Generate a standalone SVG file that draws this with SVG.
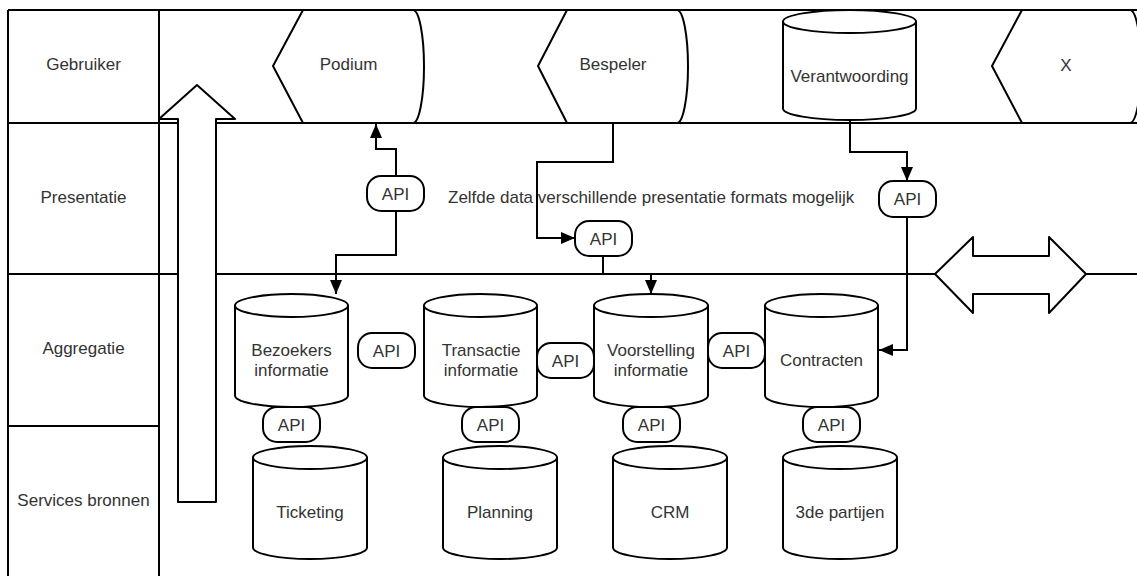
<svg xmlns="http://www.w3.org/2000/svg" width="1137" height="576" viewBox="0 0 1137 576">
  <defs>
    <style>
      .lane { fill: none; stroke: #000; stroke-width: 2; }
      .shape { fill: #fff; stroke: #000; stroke-width: 2; stroke-linejoin: round; }
      .rim { fill: none; stroke: #000; stroke-width: 2; }
      .api { fill: #fff; stroke: #000; stroke-width: 2; }
      .conn { fill: none; stroke: #000; stroke-width: 2; }
      text { font-family: "Liberation Sans", Arial, sans-serif; font-size: 17px; fill: #333; text-anchor: middle; }
      .lefttext { text-anchor: start; }
    </style>
    <marker id="arrow" markerUnits="userSpaceOnUse" markerWidth="14" markerHeight="12" refX="14" refY="6" orient="auto">
      <path d="M0,0 L14,6 L0,12 z" fill="#000"/>
    </marker>
  </defs>

  <rect width="1137" height="576" fill="#fff"/>

  <!-- swimlanes -->
  <g id="lanes">
    <path class="lane" d="M8,10 H1137 M8,123 H1137 M8,274 H1137 M8,426 H159 M8,10 V580 M159,10 V580"/>
    <text x="83.5" y="70">Gebruiker</text>
    <text x="83.5" y="203">Presentatie</text>
    <text x="83.5" y="354">Aggregatie</text>
    <text x="83.5" y="506">Services bronnen</text>
  </g>

  <!-- big upward arrow -->
  <g id="up-arrow">
    <polygon class="shape" points="197,85 235,119 216,119 216,502 178,502 178,119 159,119"/>
  </g>

  <!-- double arrow -->
  <g id="double-arrow">
    <polygon class="shape" points="935,274 973,237 973,256 1049,256 1049,237 1086,274 1049,313 1049,294 973,294 973,313"/>
  </g>

  <!-- user layer -->
  <g id="podium">
    <path class="shape" d="M273,66 L303,10 H413 A11,56.5 0 0 1 413,123 H303 Z"/>
    <text x="348.5" y="70">Podium</text>
  </g>
  <g id="bespeler">
    <path class="shape" d="M538,66 L567,10 H677 A11,56.5 0 0 1 677,123 H567 Z"/>
    <text x="613" y="70">Bespeler</text>
  </g>
  <g id="verantwoording">
    <path class="shape" d="M783,21.5 V108.5 A66.5,11.5 0 0 0 916,108.5 V21.5 A66.5,11.5 0 0 0 783,21.5 Z"/>
    <path class="rim" d="M783,21.5 A66.5,11.5 0 0 0 916,21.5"/>
    <text x="849.5" y="82">Verantwoording</text>
  </g>
  <g id="x">
    <path class="shape" d="M992,66 L1022,10 H1130 A11,56.5 0 0 1 1130,123 H1022 Z"/>
    <text x="1066" y="71">X</text>
  </g>

  <!-- aggregation layer -->
  <g id="bezoekers">
    <path class="shape" d="M235,305.5 V395.5 A56.5,11.5 0 0 0 348,395.5 V305.5 A56.5,11.5 0 0 0 235,305.5 Z"/>
    <path class="rim" d="M235,305.5 A56.5,11.5 0 0 0 348,305.5"/>
    <text x="291.5" y="356">Bezoekers</text>
    <text x="291.5" y="376">informatie</text>
  </g>
  <g id="transactie">
    <path class="shape" d="M424,305.5 V395.5 A56.5,11.5 0 0 0 537,395.5 V305.5 A56.5,11.5 0 0 0 424,305.5 Z"/>
    <path class="rim" d="M424,305.5 A56.5,11.5 0 0 0 537,305.5"/>
    <text x="481" y="356">Transactie</text>
    <text x="481" y="376">informatie</text>
  </g>
  <g id="voorstelling">
    <path class="shape" d="M594,305.5 V395.5 A57,11.5 0 0 0 708,395.5 V305.5 A57,11.5 0 0 0 594,305.5 Z"/>
    <path class="rim" d="M594,305.5 A57,11.5 0 0 0 708,305.5"/>
    <text x="651" y="356">Voorstelling</text>
    <text x="651" y="376">informatie</text>
  </g>
  <g id="contracten">
    <path class="shape" d="M765,305.5 V395.5 A56.5,11.5 0 0 0 878,395.5 V305.5 A56.5,11.5 0 0 0 765,305.5 Z"/>
    <path class="rim" d="M765,305.5 A56.5,11.5 0 0 0 878,305.5"/>
    <text x="821.5" y="366">Contracten</text>
  </g>

  <!-- source layer -->
  <g id="ticketing">
    <path class="shape" d="M253,457.5 V547.5 A57,11.5 0 0 0 367,547.5 V457.5 A57,11.5 0 0 0 253,457.5 Z"/>
    <path class="rim" d="M253,457.5 A57,11.5 0 0 0 367,457.5"/>
    <text x="310" y="518">Ticketing</text>
  </g>
  <g id="planning">
    <path class="shape" d="M443,457.5 V547.5 A57,11.5 0 0 0 557,547.5 V457.5 A57,11.5 0 0 0 443,457.5 Z"/>
    <path class="rim" d="M443,457.5 A57,11.5 0 0 0 557,457.5"/>
    <text x="500" y="518">Planning</text>
  </g>
  <g id="crm">
    <path class="shape" d="M613,457.5 V547.5 A57,11.5 0 0 0 727,547.5 V457.5 A57,11.5 0 0 0 613,457.5 Z"/>
    <path class="rim" d="M613,457.5 A57,11.5 0 0 0 727,457.5"/>
    <text x="670" y="518">CRM</text>
  </g>
  <g id="derde-partijen">
    <path class="shape" d="M783,457.5 V547.5 A57,11.5 0 0 0 897,547.5 V457.5 A57,11.5 0 0 0 783,457.5 Z"/>
    <path class="rim" d="M783,457.5 A57,11.5 0 0 0 897,457.5"/>
    <text x="840" y="518">3de partijen</text>
  </g>

  <!-- connectors -->
  <g id="connectors">
    <path class="conn" d="M396,176 V149 H376 V124" marker-end="url(#arrow)"/>
    <path class="conn" d="M396,211 V255 H336 V294" marker-end="url(#arrow)"/>
    <path class="conn" d="M613,123 V162 H537 V238 H575" marker-end="url(#arrow)"/>
    <path class="conn" d="M603,256 V274"/>
    <path class="conn" d="M651,274 V294" marker-end="url(#arrow)"/>
    <path class="conn" d="M850,120 V152 H907 V181" marker-end="url(#arrow)"/>
    <path class="conn" d="M907,217 V350 H879" marker-end="url(#arrow)"/>
  </g>

  <!-- API nodes -->
  <g id="api-podium"><rect class="api" x="367" y="176" width="57" height="35" rx="14"/><text x="395.5" y="199.5">API</text></g>
  <g id="api-bespeler"><rect class="api" x="575" y="221" width="57" height="35" rx="14"/><text x="603.5" y="244.5">API</text></g>
  <g id="api-verantwoording"><rect class="api" x="879" y="181" width="57" height="36" rx="14"/><text x="907.5" y="205">API</text></g>
  <g id="api-bezoekers-transactie"><rect class="api" x="358" y="333" width="57" height="35" rx="14"/><text x="386.5" y="356.5">API</text></g>
  <g id="api-transactie-voorstelling"><rect class="api" x="537" y="343" width="57" height="35" rx="14"/><text x="565.5" y="366.5">API</text></g>
  <g id="api-voorstelling-contracten"><rect class="api" x="708" y="333" width="57" height="35" rx="14"/><text x="736.5" y="356.5">API</text></g>
  <g id="api-ticketing"><rect class="api" x="263" y="407" width="57" height="35" rx="14"/><text x="291.5" y="430.5">API</text></g>
  <g id="api-planning"><rect class="api" x="462" y="407" width="57" height="35" rx="14"/><text x="490.5" y="430.5">API</text></g>
  <g id="api-crm"><rect class="api" x="623" y="407" width="57" height="35" rx="14"/><text x="651.5" y="430.5">API</text></g>
  <g id="api-derde-partijen"><rect class="api" x="803" y="407" width="57" height="35" rx="14"/><text x="831.5" y="430.5">API</text></g>

  <!-- note -->
  <g id="note">
    <text class="lefttext" x="448" y="203">Zelfde data verschillende presentatie formats mogelijk</text>
  </g>
</svg>
